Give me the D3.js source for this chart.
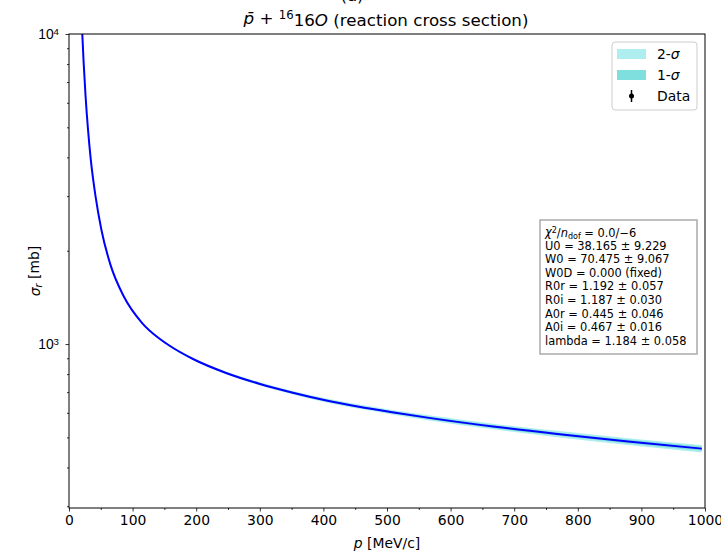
<!DOCTYPE html>
<html><head><meta charset="utf-8">
<script src="https://cdn.jsdelivr.net/npm/d3@7"></script>
<style>body{margin:0;background:#fff;} svg{display:block;font-family:"DejaVu Sans",sans-serif;}</style>
</head><body>
<svg id="c" width="721" height="554"></svg>
<script>
// ---- data ----
const momentum     = [20.9, 23, 26, 30, 34, 42, 51, 65, 86, 115, 143, 157, 195, 247, 299, 352, 403, 456, 508, 566, 670, 775, 879, 995];
const sigmaCentral = [10000, 8100, 6324, 4887, 3981, 2972, 2333, 1807, 1426, 1169, 1038, 991, 895, 807, 745, 697, 659, 628, 603, 578, 541, 511, 485, 460];
const band2Low  = [9940, 8051, 6286, 4858, 3957, 2954, 2319, 1796, 1417, 1162, 1031, 984, 888, 799, 736, 688, 649, 618, 593, 567, 530, 499, 473, 447];
const band2High = [10060, 8149, 6362, 4916, 4005, 2990, 2347, 1818, 1435, 1176, 1045, 998, 902, 815, 754, 706, 669, 638, 613, 589, 552, 523, 497, 473];
const band1Low  = [9970, 8075, 6305, 4872, 3969, 2963, 2326, 1801, 1421, 1165, 1034, 987, 891, 803, 740, 692, 654, 623, 598, 572, 535, 505, 478, 453];
const band1High = [10030, 8125, 6343, 4902, 3993, 2981, 2340, 1813, 1431, 1173, 1042, 995, 899, 811, 750, 702, 664, 633, 608, 584, 547, 517, 492, 467];
const xTicks = [0, 100, 200, 300, 400, 500, 600, 700, 800, 900, 1000];
const xMinorTicks = [50, 150, 250, 350, 450, 550, 650, 750, 850, 950];
const yTicks = [1000, 10000];
const yTickExp = ["3", "4"];
const yMinorTicks = [300, 400, 500, 600, 700, 800, 900, 2000, 3000, 4000, 5000, 6000, 7000, 8000, 9000];
const fitLines = [
  "U0 = 38.165 \u00b1 9.229",
  "W0 = 70.475 \u00b1 9.067",
  "W0D = 0.000 (fixed)",
  "R0r = 1.192 \u00b1 0.057",
  "R0i = 1.187 \u00b1 0.030",
  "A0r = 0.445 \u00b1 0.046",
  "A0i = 0.467 \u00b1 0.016",
  "lambda = 1.184 \u00b1 0.058"
];
const legendItems = ["2-\u03c3", "1-\u03c3", "Data"];

// ---- layout ----
const L = 69, R = 705, T = 34, B = 508;
const svg = d3.select("#c");
const x = d3.scaleLinear().domain([0, 1000]).range([L, R]);
const y = d3.scaleLog().domain([296, 10000]).range([B, T]);

svg.append("defs").append("clipPath").attr("id", "clip")
  .append("rect").attr("x", L).attr("y", T).attr("width", R - L).attr("height", B - T);

const rows = momentum.map((p, i) => ({p, c: sigmaCentral[i], l2: band2Low[i], h2: band2High[i], l1: band1Low[i], h1: band1High[i]}));
const g = svg.append("g").attr("clip-path", "url(#clip)");
const area = (lo, hi) => d3.area().x(d => x(d.p)).y0(d => y(d[lo])).y1(d => y(d[hi])).curve(d3.curveMonotoneX);
g.append("path").datum(rows).attr("d", area("l2", "h2")).attr("fill", "#afeeee");
g.append("path").datum(rows).attr("d", area("l1", "h1")).attr("fill", "#7fdfdf");
g.append("path").datum(rows).attr("d", d3.line().x(d => x(d.p)).y(d => y(d.c)).curve(d3.curveMonotoneX))
  .attr("fill", "none").attr("stroke", "#0000ff").attr("stroke-width", 2);

// ---- axes ----
const xAx = svg.append("g").attr("transform", `translate(0,${B})`)
  .call(d3.axisBottom(x).tickValues(xTicks).tickSize(3.5).tickPadding(3.5).tickFormat(d3.format("d")));
const xAxMinor = svg.append("g").attr("transform", `translate(0,${B})`)
  .call(d3.axisBottom(x).tickValues(xMinorTicks).tickSize(2).tickFormat(""));
const yAx = svg.append("g").attr("transform", `translate(${L},0)`)
  .call(d3.axisLeft(y).tickValues(yTicks).tickSize(3.5).tickPadding(6).tickFormat(""));
const yAxMinor = svg.append("g").attr("transform", `translate(${L},0)`)
  .call(d3.axisLeft(y).tickValues(yMinorTicks).tickSize(2).tickFormat(""));
[xAx, xAxMinor, yAx, yAxMinor].forEach(a => {
  a.select(".domain").remove();
  a.selectAll("line").attr("stroke", "#000").attr("stroke-width", 0.8);
});
xAx.selectAll("text").attr("font-size", 13.9).attr("fill", "#000").attr("font-family", "DejaVu Sans");
yAx.selectAll(".tick").each(function(d, i) {
  const t = d3.select(this).select("text").attr("font-size", 13.9).attr("fill", "#000")
    .attr("x", -10).attr("dy", "0.32em").attr("text-anchor", "end").text("");
  t.append("tspan").text("10");
  t.append("tspan").attr("dy", "-0.45em").attr("font-size", 9.7).text(yTickExp[i]);
});

// spines
svg.append("rect").attr("x", L).attr("y", T).attr("width", R - L).attr("height", B - T)
  .attr("fill", "none").attr("stroke", "#000").attr("stroke-width", 1);

// ---- titles ----
svg.append("text").attr("x", 352).attr("y", 1).attr("text-anchor", "middle")
  .attr("font-size", 16.7).text("(a)");
const title = svg.append("text").attr("x", 386).attr("y", 24).attr("text-anchor", "middle").attr("font-size", 16.7);
title.append("tspan").attr("font-style", "italic").text("p\u0304");
title.append("tspan").text(" + ");
title.append("tspan").attr("dy", "-0.45em").attr("font-size", 11.7).text("16");
title.append("tspan").attr("dy", "0.45em").text("16");
title.append("tspan").attr("font-style", "italic").text("O");
title.append("tspan").text(" (reaction cross section)");

const xl = svg.append("text").attr("x", (L + R) / 2).attr("y", 548).attr("text-anchor", "middle").attr("font-size", 13.9);
xl.append("tspan").attr("font-style", "italic").text("p");
xl.append("tspan").text(" [MeV/c]");
const yl = svg.append("text").attr("transform", `translate(40,${(T + B) / 2}) rotate(-90)`)
  .attr("text-anchor", "middle").attr("font-size", 13.9);
yl.append("tspan").attr("font-style", "italic").text("\u03c3");
yl.append("tspan").attr("font-style", "italic").attr("font-size", 9.7).attr("dy", "0.25em").text("r");
yl.append("tspan").attr("dy", "-0.25em").text(" [mb]");

// ---- legend ----
const lg = svg.append("g");
lg.append("rect").attr("x", 612).attr("y", 42).attr("width", 85).attr("height", 68).attr("rx", 3)
  .attr("fill", "#fff").attr("fill-opacity", 0.8).attr("stroke", "#cccccc").attr("stroke-width", 1);
const swCol = ["#afeeee", "#7fdfdf"];
legendItems.forEach((name, i) => {
  const cy = 54 + i * 21;
  if (i < 2) {
    lg.append("rect").attr("x", 617).attr("y", cy - 5).attr("width", 29).attr("height", 10).attr("fill", swCol[i]);
  } else {
    lg.append("line").attr("x1", 631.5).attr("x2", 631.5).attr("y1", cy - 6).attr("y2", cy + 6)
      .attr("stroke", "#000").attr("stroke-width", 1.5);
    lg.append("circle").attr("cx", 631.5).attr("cy", cy).attr("r", 2.5).attr("fill", "#000");
  }
  const t = lg.append("text").attr("x", 657).attr("y", cy + 5).attr("font-size", 13.9);
  if (i < 2) {
    t.append("tspan").text(name.slice(0, 2));
    t.append("tspan").attr("font-style", "italic").text(name.slice(2));
  } else t.text(name);
});

// ---- fit box ----
const bx = svg.append("g");
bx.append("rect").attr("x", 540).attr("y", 220).attr("width", 157).attr("height", 134)
  .attr("fill", "#fff").attr("stroke", "#aaaaaa").attr("stroke-width", 1.5);
const fs = 11.4, x0 = 545, y0 = 236, dyL = 13.6;
const l0 = bx.append("text").attr("x", x0).attr("y", y0).attr("font-size", fs);
l0.append("tspan").attr("font-style", "italic").text("\u03c7");
l0.append("tspan").attr("dy", "-0.4em").attr("font-size", 8).text("2");
l0.append("tspan").attr("dy", "0.4em").text("/");
l0.append("tspan").attr("font-style", "italic").text("n");
l0.append("tspan").attr("dy", "0.25em").attr("font-size", 8).text("dof");
l0.append("tspan").attr("dy", "-0.25em").text(" = 0.0/\u22126");
fitLines.forEach((s, i) => {
  bx.append("text").attr("x", x0).attr("y", y0 + (i + 1) * dyL).attr("font-size", fs).text(s);
});
</script>
</body></html>
